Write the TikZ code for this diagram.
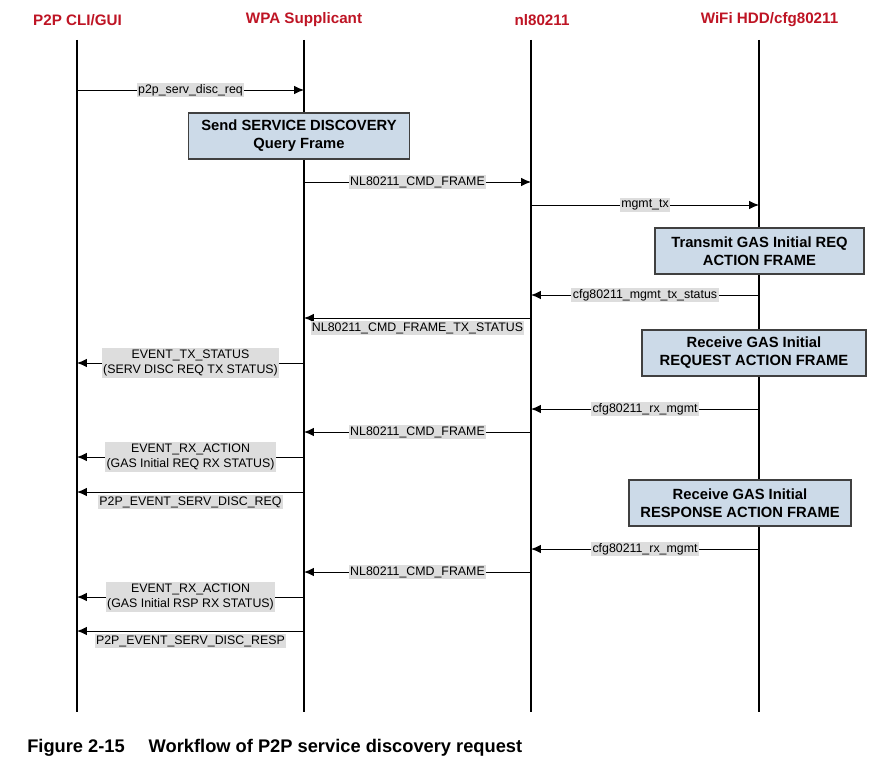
\documentclass[tikz,border=0pt]{standalone}
\usepackage{fontspec}
\setmainfont{Liberation Sans}
\usepackage{tikz}
\usetikzlibrary{arrows.meta}

\definecolor{hdrred}{RGB}{190,20,36}
\definecolor{boxblue}{RGB}{204,218,232}
\definecolor{lblgray}{RGB}{221,221,221}

\begin{document}
\begin{tikzpicture}[x=0.025cm,y=-0.025cm,->,>={Latex[length=7pt,width=6pt]},
    lifeline/.style={-,line width=2.1pt},
    msg/.style={line width=0.7pt},
    head node/.style={font=\fontsize{10.8}{12}\selectfont\bfseries,text=hdrred},
    act node/.style={draw=black!75,line width=0.9pt,fill=boxblue,align=center,
                     inner sep=0pt,minimum height=1.15cm,
                     font=\fontsize{10.5}{12.8}\selectfont\bfseries},
    lbl/.style={fill=lblgray,inner sep=1pt,align=center,
                font=\fontsize{8.8}{10.7}\selectfont}]

  \useasboundingbox (0,0) rectangle (879,773);

  % lanes
  \node[head node] (cli) at (77.5,20) {P2P CLI/GUI};
  \node[head node] (wpa) at (304,20) {WPA Supplicant};
  \node[head node] (nl)  at (542,20) {nl80211};
  \node[head node] (hdd) at (769.5,20) {WiFi HDD/cfg80211};

  \foreach \n/\x in {cli/77,wpa/304,nl/531,hdd/759}
    \draw[lifeline] (\x,40) -- (\x,712);

  % one coordinate per lane and message row
  \foreach \r/\y in {1/90,2/182,3/205,4/295,5/318,6/363,7/409,
                     8/432,9/457,10/492,11/549,12/572,13/597,14/631}
    \foreach \n/\x in {cli/77,wpa/304,nl/531,hdd/759}
      \coordinate (\n\r) at (\x,\y);

  % actions
  \node[act node,minimum width=5.525cm] (sendq) at (299,136)
    {Send SERVICE DISCOVERY\\Query Frame};
  \node[act node,minimum width=5.225cm] (txgas) at (759.5,251)
    {Transmit GAS Initial REQ\\ACTION FRAME};
  \node[act node,minimum width=5.6cm] (rxreq) at (754,353)
    {Receive GAS Initial\\REQUEST ACTION FRAME};
  \node[act node,minimum width=5.55cm] (rxrsp) at (740,503)
    {Receive GAS Initial\\RESPONSE ACTION FRAME};

  \path[msg]
    (cli1)  edge node[lbl] {p2p\_serv\_disc\_req} (wpa1)
    (wpa2)  edge node[lbl] {NL80211\_CMD\_FRAME} (nl2)
    (nl3)   edge node[lbl] {mgmt\_tx} (hdd3)
    (hdd4)  edge node[lbl] {cfg80211\_mgmt\_tx\_status} (nl4)
    (nl5)   edge node[lbl,below=2pt] {NL80211\_CMD\_FRAME\_TX\_STATUS} (wpa5)
    (wpa6)  edge node[lbl] {EVENT\_TX\_STATUS\\(SERV DISC REQ TX STATUS)} (cli6)
    (hdd7)  edge node[lbl] {cfg80211\_rx\_mgmt} (nl7)
    (nl8)   edge node[lbl] {NL80211\_CMD\_FRAME} (wpa8)
    (wpa9)  edge node[lbl] {EVENT\_RX\_ACTION\\(GAS Initial REQ RX STATUS)} (cli9)
    (wpa10) edge node[lbl,below=2pt] {P2P\_EVENT\_SERV\_DISC\_REQ} (cli10)
    (hdd11) edge node[lbl] {cfg80211\_rx\_mgmt} (nl11)
    (nl12)  edge node[lbl] {NL80211\_CMD\_FRAME} (wpa12)
    (wpa13) edge node[lbl] {EVENT\_RX\_ACTION\\(GAS Initial RSP RX STATUS)} (cli13)
    (wpa14) edge node[lbl,below=2pt] {P2P\_EVENT\_SERV\_DISC\_RESP} (cli14)
;

  \node[anchor=base west,inner sep=0pt,font=\fontsize{13}{15}\selectfont\bfseries] (cap) at (27,752)
    {Figure 2-15\hspace{17pt}Workflow of P2P service discovery request};
\end{tikzpicture}
\end{document}
